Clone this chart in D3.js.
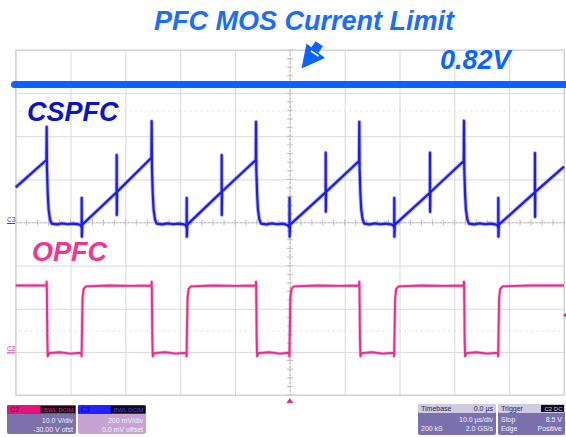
<!DOCTYPE html>
<html>
<head>
<meta charset="utf-8">
<script src="https://cdn.jsdelivr.net/npm/d3@7"></script>
<style>
  html, body { margin: 0; padding: 0; background: #fff; }
  svg { display: block; }
  text { font-family: "Liberation Sans", Arial, sans-serif; }
</style>
</head>
<body>
<svg id="chart" width="566" height="437"></svg>
<script>
// ---------------- DATA ----------------
const titleText = "PFC MOS Current Limit";
const limitLabel = "0.82V";
const csLabel = "CSPFC";
const opLabel = "OPFC";

// time axis: 10 us/div, 10 divisions, timebase delay 0.0 us
const timeTicks = [-50, -40, -30, -20, -10, 0, 10, 20, 30, 40, 50];
// CSPFC channel: 200 mV/div, 0 mV offset  (8 divisions)
const csTicks = [-800, -600, -400, -200, 0, 200, 400, 600, 800];
// OPFC channel: 10 V/div, -30 V offset
const opDomain = [-10, 70];
const triggerLevel = 8.5;      // V (OPFC)
const limitLevel = 640;        // mV on CSPFC screen scale (current-limit line)
const refRows = [517, -503];   // faint dotted reference rows (mV screen scale)

// CSPFC trace  [time us, mV]
const csPoints = [
  [-50.00, 163], [-44.40, 290],
  [-44.35, 444], [-44.30, 250], [-44.15, 130], [-44.00, 60], [-43.75, 15], [-43.45, -5],
  [-42.5, -9], [-41.5, -4], [-40.5, -8], [-39.5, -5], [-38.5, -9], [-38.15, -12], [-37.98, -25],
  [-37.96, 114], [-37.94, -66], [-37.85, -10],
  [-31.60, 140], [-31.58, 313], [-31.56, 35], [-31.52, 142],
  [-25.25, 300], [-25.20, 470], [-25.15, 255], [-25.00, 130], [-24.85, 60], [-24.60, 15], [-24.30, -5],
  [-23.3, -9], [-22.3, -4], [-21.3, -8], [-20.3, -5], [-19.3, -9], [-19.00, -12], [-18.83, -25],
  [-18.81, 114], [-18.79, -66], [-18.70, -10],
  [-12.45, 142], [-12.43, 313], [-12.41, 35], [-12.37, 144],
  [-6.22, 290], [-6.17, 467], [-6.12, 250], [-5.97, 130], [-5.82, 60], [-5.57, 15], [-5.27, -5],
  [-4.3, -9], [-3.3, -4], [-2.3, -8], [-1.3, -5], [-0.40, -12], [-0.08, -25],
  [-0.06, 114], [-0.04, -66], [0.05, -10],
  [6.52, 140], [6.54, 324], [6.56, 50], [6.60, 142],
  [12.62, 285], [12.67, 467], [12.72, 250], [12.87, 130], [13.02, 60], [13.27, 15], [13.57, -5],
  [14.5, -9], [15.5, -4], [16.5, -8], [17.5, -5], [18.5, -9], [18.85, -12], [19.03, -25],
  [19.05, 114], [19.07, -66], [19.15, -10],
  [25.54, 138], [25.56, 324], [25.58, 49], [25.62, 140],
  [31.71, 285], [31.76, 472], [31.81, 250], [31.96, 130], [32.11, 60], [32.36, 15], [32.66, -5],
  [33.6, -9], [34.6, -4], [35.6, -8], [36.6, -5], [37.5, -9], [37.85, -12], [38.00, -25],
  [38.02, 114], [38.04, -66], [38.12, -10],
  [44.68, 140], [44.70, 322], [44.72, 26], [44.76, 142],
  [50.00, 259]
];

// OPFC trace  [time us, V]
const opPoints = [
  [-50.00, 15.4],
  [-44.40, 15.4], [-44.35, 16.3], [-44.32, 14.8], [-44.23, 3.0], [-44.15, -1.0], [-43.90, -0.3],
  [-42.0, -0.1], [-40.0, -0.4], [-38.06, -0.2], [-37.98, -1.0], [-37.91, 5.0], [-37.81, 12.5],
  [-37.61, 14.6], [-37.16, 15.2], [-33.0, 15.4], [-29.0, 15.3],
  [-25.25, 15.4], [-25.20, 16.3], [-25.17, 14.8], [-25.08, 3.0], [-25.00, -1.0], [-24.75, -0.3],
  [-22.8, -0.1], [-20.8, -0.4], [-18.91, -0.2], [-18.83, -1.0], [-18.76, 5.0], [-18.66, 12.5],
  [-18.46, 14.6], [-18.01, 15.2], [-14.0, 15.4], [-10.0, 15.3],
  [-6.22, 15.4], [-6.17, 16.3], [-6.14, 14.8], [-6.05, 3.0], [-5.97, -1.0], [-5.72, -0.3],
  [-3.8, -0.1], [-1.8, -0.4], [-0.16, -0.2], [-0.08, -1.0], [-0.01, 5.0], [0.09, 12.5],
  [0.29, 14.6], [0.74, 15.2], [5.0, 15.4], [9.0, 15.3],
  [12.62, 15.4], [12.67, 16.3], [12.70, 14.8], [12.79, 3.0], [12.87, -1.0], [13.12, -0.3],
  [15.0, -0.1], [17.0, -0.4], [18.95, -0.2], [19.03, -1.0], [19.10, 5.0], [19.20, 12.5],
  [19.40, 14.6], [19.85, 15.2], [24.0, 15.4], [28.0, 15.3],
  [31.71, 15.4], [31.76, 16.3], [31.79, 14.8], [31.88, 3.0], [31.96, -1.0], [32.21, -0.3],
  [34.0, -0.1], [36.0, -0.4], [37.92, -0.2], [38.00, -1.0], [38.07, 5.0], [38.17, 12.5],
  [38.37, 14.6], [38.82, 15.2], [44.0, 15.4], [50.0, 15.4]
];

// info boxes
const c2Box = { name: "C2", tags: "BWL DCIM", rows: [["", "10.0 V/div"], ["", "-30.00 V ofst"]] };
const c3Box = { name: "C3", tags: "BWL DCIM", rows: [["", "200 mV/div"], ["", "0.0 mV offset"]] };
const tbBox = { name: "Timebase", right: "0.0 µs", rows: [["", "10.0 µs/div"], ["200 kS", "2.0 GS/s"]] };
const trBox = { name: "Trigger", tags: "C2 DC", rows: [["Stop", "8.5 V"], ["Edge", "Positive"]] };

// ---------------- DRAWING ----------------
const svg = d3.select("#chart");
const L = 15.7, R = 564, T = 50, B = 395;

const x = d3.scaleLinear().domain([-50, 50]).range([L, R]);
const yCS = d3.scaleLinear().domain([-800, 800]).range([B, T]);
const yOP = d3.scaleLinear().domain(opDomain).range([B, T]);

const grid = svg.append("g");
grid.append("g")
  .attr("transform", `translate(0,${B})`)
  .call(d3.axisBottom(x).tickValues(timeTicks).tickSize(-(B - T)).tickFormat(""))
  .call(g => g.select(".domain").remove())
  .call(g => g.selectAll("line").attr("stroke", "#d9d9d9").attr("stroke-width", 1));
grid.append("g")
  .attr("transform", `translate(${L},0)`)
  .call(d3.axisLeft(yCS).tickValues(csTicks).tickSize(-(R - L)).tickFormat(""))
  .call(g => g.select(".domain").remove())
  .call(g => g.selectAll("line").attr("stroke", "#d9d9d9").attr("stroke-width", 1));

refRows.forEach(v => {
  grid.append("line").attr("x1", L + 4).attr("x2", R - 4)
    .attr("y1", yCS(v)).attr("y2", yCS(v))
    .attr("stroke", "#d6d6d6").attr("stroke-width", 1).attr("stroke-dasharray", "1.5,4");
});

const cx = x(0), cy = yCS(0);
grid.append("line").attr("x1", cx).attr("x2", cx).attr("y1", T).attr("y2", B)
  .attr("stroke", "#bdbdbd").attr("stroke-dasharray", "2,2");
grid.append("line").attr("x1", L).attr("x2", R).attr("y1", cy).attr("y2", cy)
  .attr("stroke", "#bdbdbd").attr("stroke-dasharray", "2,2");
const minorT = d3.range(-50, 50.01, 2);
grid.selectAll(".mtx").data(minorT).enter().append("line")
  .attr("x1", d => x(d)).attr("x2", d => x(d)).attr("y1", cy - 3).attr("y2", cy + 3)
  .attr("stroke", "#bdbdbd");
const minorV = d3.range(-800, 800.01, 40);
grid.selectAll(".mty").data(minorV).enter().append("line")
  .attr("x1", cx - 3).attr("x2", cx + 3).attr("y1", d => yCS(d)).attr("y2", d => yCS(d))
  .attr("stroke", "#bdbdbd");

grid.append("rect").attr("x", L).attr("y", T).attr("width", R - L).attr("height", B - T)
  .attr("fill", "none").attr("stroke", "#cfcfcf");

// traces
const csLine = d3.line().x(d => x(d[0])).y(d => yCS(d[1]));
const opLine = d3.line().x(d => x(d[0])).y(d => yOP(d[1]));

svg.append("path").attr("d", csLine(csPoints)).attr("fill", "none")
  .attr("stroke", "#6f6ff6").attr("stroke-width", 4).attr("stroke-opacity", 0.5).attr("stroke-linejoin", "round");
svg.append("path").attr("d", csLine(csPoints)).attr("fill", "none")
  .attr("stroke", "#1c1cf0").attr("stroke-width", 2.2).attr("stroke-linejoin", "round");

svg.append("path").attr("d", opLine(opPoints)).attr("fill", "none")
  .attr("stroke", "#f27ab6").attr("stroke-width", 3.4).attr("stroke-opacity", 0.5).attr("stroke-linejoin", "round");
svg.append("path").attr("d", opLine(opPoints)).attr("fill", "none")
  .attr("stroke", "#ea2a8c").attr("stroke-width", 1.9).attr("stroke-linejoin", "round");

function gndMarker(yv, label, color) {
  svg.append("text").attr("x", 7).attr("y", yv - 1.5).attr("font-size", 6.5)
    .attr("fill", color).text(label);
  svg.append("line").attr("x1", 7).attr("x2", 15).attr("y1", yv).attr("y2", yv)
    .attr("stroke", color).attr("stroke-width", 1);
}
gndMarker(yCS(0) + 1, "C3", "#3a3af0");
gndMarker(yOP(0) + 1, "C2", "#ea2a8c");

const ty = yOP(triggerLevel);
svg.append("path").attr("d", `M${R - 1},${ty} L${R + 3},${ty - 3} L${R + 3},${ty + 3} Z`).attr("fill", "#ea2a8c");
svg.append("path").attr("d", `M${cx},${B + 3} L${cx + 3.5},${B + 8} L${cx - 3.5},${B + 8} Z`).attr("fill", "#ea2a8c");

const ly = yCS(limitLevel);
svg.append("line").attr("x1", 14.5).attr("x2", 570).attr("y1", ly).attr("y2", ly)
  .attr("stroke", "#0a64ff").attr("stroke-width", 7).attr("stroke-linecap", "round");

svg.append("path").attr("d", "M301.5,68.5 L306.5,43.5 L325,58 Z").attr("fill", "#0a64ff");
svg.append("rect").attr("x", -4.5).attr("y", -4).attr("width", 9).attr("height", 8)
  .attr("fill", "#0a64ff")
  .attr("transform", "translate(317,47) rotate(35)");
svg.append("line").attr("x1", 311).attr("y1", 51).attr("x2", 318.5).attr("y2", 56)
  .attr("stroke", "#fff").attr("stroke-width", 1.6);

const lab = (t, xx, yy, size, color, anchor) => svg.append("text")
  .attr("x", xx).attr("y", yy).attr("font-size", size).attr("font-weight", "bold")
  .attr("font-style", "italic").attr("fill", color).attr("text-anchor", anchor || "start").text(t);
lab(titleText, 304, 30, 27, "#1a6dff", "middle");
lab(limitLabel, 440, 69, 27, "#0a64ff");
lab(csLabel, 27, 121, 27, "#0a14c8");
lab(opLabel, 32, 261, 27, "#f0378f");

function infoBox(bx, by, w, h, box, headFill, headText, bodyFill, textFill, tagFill) {
  const g = svg.append("g");
  g.append("rect").attr("x", bx).attr("y", by).attr("width", w).attr("height", h).attr("rx", 2).attr("fill", bodyFill);
  g.append("rect").attr("x", bx).attr("y", by).attr("width", w).attr("height", 9).attr("rx", 1.5).attr("fill", headFill);
  g.append("text").attr("x", bx + 3).attr("y", by + 7.2).attr("font-size", 7).attr("fill", headText).text(box.name);
  if (box.tags) {
    const tw = box.tags.length * 3.8 + 4;
    g.append("rect").attr("x", bx + w - tw - 1).attr("y", by + 1).attr("width", tw).attr("height", 7).attr("fill", "#140a14");
    g.append("text").attr("x", bx + w - 2.5).attr("y", by + 7).attr("font-size", 6).attr("fill", tagFill)
      .attr("text-anchor", "end").text(box.tags);
  }
  if (box.right) {
    g.append("text").attr("x", bx + w - 3).attr("y", by + 7.2).attr("font-size", 7).attr("fill", headText)
      .attr("text-anchor", "end").text(box.right);
  }
  box.rows.forEach((r, i) => {
    const yy = by + 17.5 + i * 9;
    if (r[0]) g.append("text").attr("x", bx + 3).attr("y", yy).attr("font-size", 7).attr("fill", textFill).text(r[0]);
    g.append("text").attr("x", bx + w - 3).attr("y", yy).attr("font-size", 7).attr("fill", textFill)
      .attr("text-anchor", "end").text(r[1]);
  });
}
infoBox(7, 405, 69, 29, c2Box, "#e2157c", "#5a0a30", "#7c71ab", "#f2f0fa", "#e2157c");
infoBox(78, 405, 68, 29, c3Box, "#2222ff", "#0a0a60", "#c7a3d5", "#f6f0fa", "#3a3aff");
infoBox(418, 404, 78, 31, tbBox, "#cfcbe3", "#2c2650", "#7b70ae", "#f2f0fa", "#ffffff");
infoBox(498, 404, 67, 31, trBox, "#cfcbe3", "#2c2650", "#7b70ae", "#f2f0fa", "#cfcbe3");
</script>
</body>
</html>
